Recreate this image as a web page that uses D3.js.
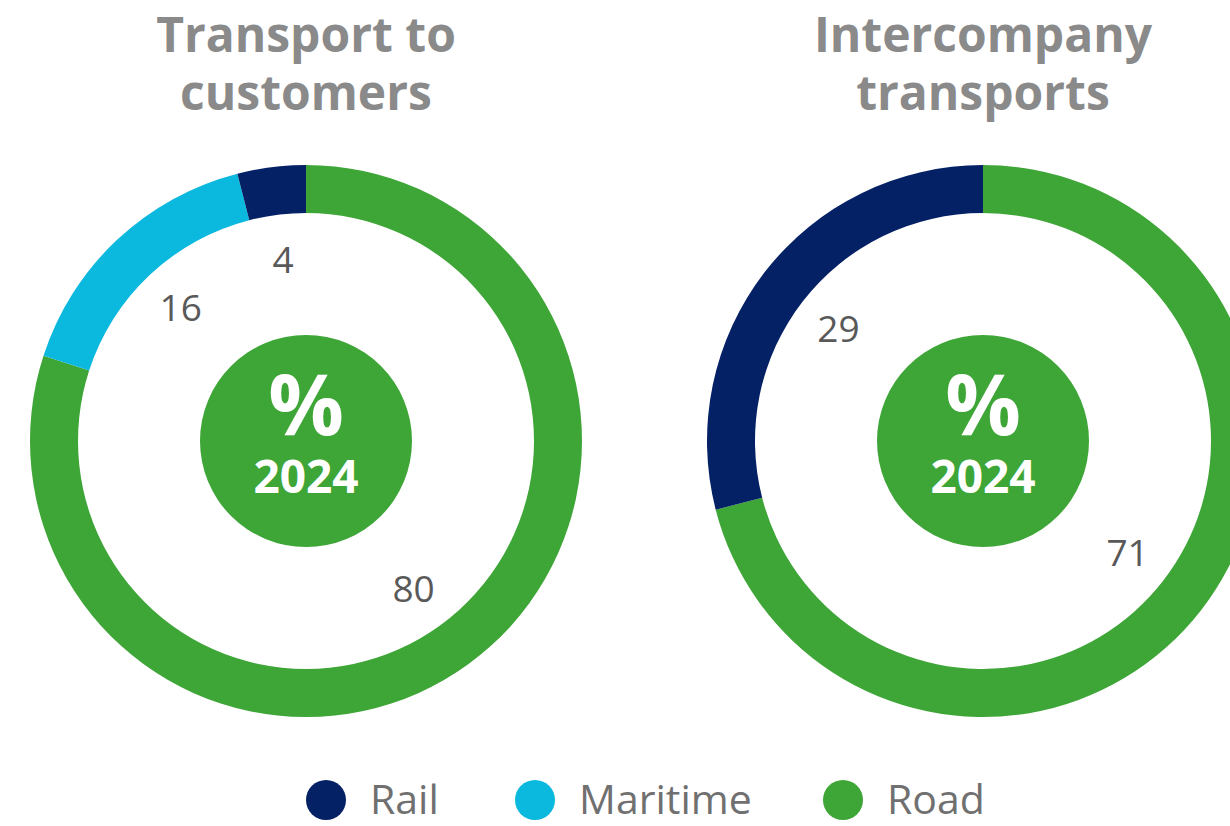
<!DOCTYPE html>
<html lang="en">
<head>
<meta charset="utf-8">
<title>Transport modes 2024</title>
<script src="https://cdn.jsdelivr.net/npm/d3@7"></script>
<style>
  html, body { margin: 0; padding: 0; background: #fff; overflow: hidden; }
  svg { display: block; font-family: "Open Sans", sans-serif; }
</style>
</head>
<body>
<script>
// data
var modes = ["Rail", "Maritime", "Road"];
var modeColors = ["#052166", "#0bb8de", "#3ea537"];
var chartTitles = [["Transport to", "customers"], ["Intercompany", "transports"]];
// slices drawn clockwise from 12 o'clock: Road first
var customersOrder = ["Road", "Maritime", "Rail"];
var customersValues = [80, 16, 4];
var intercompanyOrder = ["Road", "Rail"];
var intercompanyValues = [71, 29];
var centerYear = "2024";

var w = 1230, h = 826;
var svg = d3.select("body").append("svg")
  .attr("width", w)
  .attr("height", h);

var color = d3.scaleOrdinal().domain(modes).range(modeColors);

var outerR = 276, innerR = 228, labelR = 183, hubR = 106;
var centers = [[306, 441], [983, 441]];

var charts = [
  { title: chartTitles[0], keys: customersOrder, values: customersValues },
  { title: chartTitles[1], keys: intercompanyOrder, values: intercompanyValues }
];

var pie = d3.pie().sort(null).value(function(d) { return d.v; });
var arc = d3.arc().innerRadius(innerR).outerRadius(outerR);
var labelArc = d3.arc().innerRadius(labelR).outerRadius(labelR);

charts.forEach(function(c, i) {
  var g = svg.append("g")
    .attr("transform", "translate(" + centers[i][0] + "," + centers[i][1] + ")");

  var rows = c.keys.map(function(k, j) { return { k: k, v: c.values[j] }; });
  var slices = pie(rows);

  g.selectAll("path.slice")
    .data(slices)
    .enter()
    .append("path")
    .attr("class", "slice")
    .attr("d", arc)
    .attr("fill", function(d) { return color(d.data.k); });

  g.selectAll("text.val")
    .data(slices)
    .enter()
    .append("text")
    .attr("class", "val")
    .attr("transform", function(d) { return "translate(" + labelArc.centroid(d) + ")"; })
    .attr("text-anchor", "middle")
    .attr("dy", "0.36em")
    .attr("font-size", 37)
    .attr("fill", "#595959")
    .text(function(d) { return d.data.v; });

  // center hub
  g.append("circle")
    .attr("r", hubR)
    .attr("fill", color("Road"));
  g.append("text")
    .attr("text-anchor", "middle")
    .attr("y", -6)
    .attr("font-size", 84)
    .attr("font-weight", 700)
    .attr("fill", "#fff")
    .text("%");
  g.append("text")
    .attr("text-anchor", "middle")
    .attr("y", 52)
    .attr("font-size", 46)
    .attr("font-weight", 700)
    .attr("fill", "#fff")
    .text(centerYear);

  // title
  var t = svg.append("text")
    .attr("text-anchor", "middle")
    .attr("font-size", 48)
    .attr("font-weight", 700)
    .attr("fill", "#8a8a8a");
  c.title.forEach(function(line, j) {
    t.append("tspan")
      .attr("x", centers[i][0])
      .attr("y", 52 + j * 58)
      .text(line);
  });
});

// legend
var legendX = [326, 535, 843];
var legend = svg.selectAll("g.legend")
  .data(modes)
  .enter()
  .append("g")
  .attr("class", "legend")
  .attr("transform", function(d, i) { return "translate(" + legendX[i] + ",800)"; });

legend.append("circle")
  .attr("r", 20)
  .attr("fill", function(d) { return color(d); });

legend.append("text")
  .attr("x", 44)
  .attr("dy", "0.35em")
  .attr("font-size", 41)
  .attr("fill", "#707070")
  .text(function(d) { return d; });
</script>
</body>
</html>
